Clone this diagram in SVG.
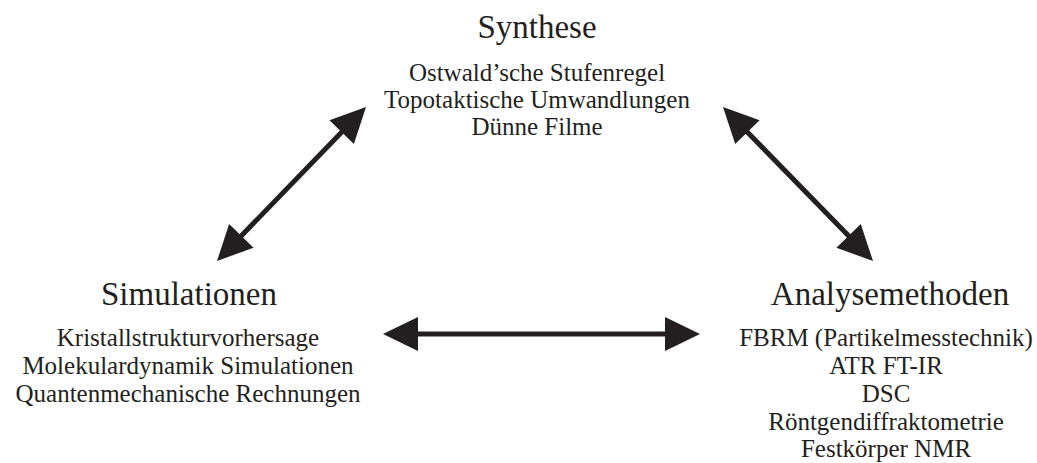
<svg xmlns="http://www.w3.org/2000/svg" width="1037" height="463" viewBox="0 0 1037 463">
<style>
text{font-family:"Liberation Serif","Times New Roman",serif;fill:#231f20;text-anchor:middle}
.t{font-size:33px}
.s{font-size:25px}
.ln{stroke:#231f20;stroke-width:5;fill:none}
.hd{fill:#231f20}
</style>
<rect width="1037" height="463" fill="#ffffff"/>
<g id="synthese">
<text class="t" x="537" y="38">Synthese</text>
<text class="s" x="537" y="81">Ostwald’sche Stufenregel</text>
<text class="s" x="537" y="108">Topotaktische Umwandlungen</text>
<text class="s" x="537" y="135">Dünne Filme</text>
</g>
<g id="simulationen">
<text class="t" x="189" y="305">Simulationen</text>
<text class="s" x="188" y="346">Kristallstrukturvorhersage</text>
<text class="s" x="188" y="374">Molekulardynamik Simulationen</text>
<text class="s" x="188" y="402">Quantenmechanische Rechnungen</text>
</g>
<g id="analysemethoden">
<text class="t" x="890" y="305">Analysemethoden</text>
<text class="s" x="886" y="346">FBRM (Partikelmesstechnik)</text>
<text class="s" x="886" y="374">ATR FT-IR</text>
<text class="s" x="886" y="402">DSC</text>
<text class="s" x="886" y="430">Röntgendiffraktometrie</text>
<text class="s" x="886" y="457">Festkörper NMR</text>
</g>
<g id="connectors">
<line class="ln" x1="410" y1="334" x2="673" y2="334"/>
<polygon class="hd" points="383,334 418,317 418,351"/>
<polygon class="hd" points="700,334 665,317 665,351"/>
<line class="ln" x1="234.4" y1="243.0" x2="348.6" y2="125.0"/>
<polygon class="hd" points="366,107 353.88,143.97 329.44,120.33"/>
<polygon class="hd" points="217,261 253.56,247.67 229.12,224.03"/>
<line class="ln" x1="740.4" y1="124.9" x2="855.6" y2="243.1"/>
<polygon class="hd" points="723,107 735.24,143.93 759.60,120.21"/>
<polygon class="hd" points="873,261 836.40,247.79 860.76,224.07"/>
</g>
</svg>
